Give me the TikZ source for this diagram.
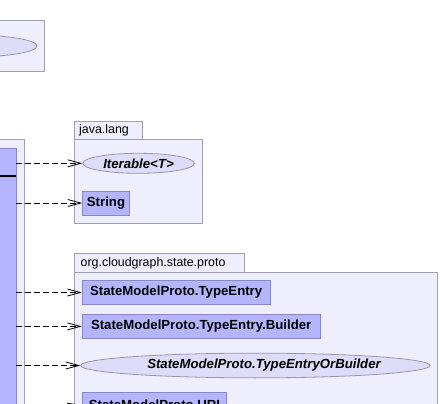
\documentclass[tikz,border=0pt]{standalone}
\usepackage{fontspec}
\setmainfont{Liberation Sans}
\usetikzlibrary{arrows.meta,shapes.geometric}
\definecolor{pkgfill}{RGB}{238,238,252}
\definecolor{pkgline}{RGB}{160,160,180}
\definecolor{clsfill}{RGB}{181,181,255}
\definecolor{clsline}{RGB}{136,136,200}
\definecolor{intfill}{RGB}{221,221,250}
\definecolor{intline}{RGB}{150,150,175}
\begin{document}
\begin{tikzpicture}[x=1pt,y=-1pt,
  pkg/.style={draw=pkgline, fill=pkgfill, line width=0.8pt},
  cls/.style={draw=clsline, fill=clsfill, line width=0.8pt, inner sep=0pt, font=\fontsize{13.2}{15}\selectfont\bfseries},
  intf/.style={ellipse, draw=intline, fill=intfill, line width=0.8pt, inner sep=0pt, font=\fontsize{13.2}{15}\selectfont\bfseries\itshape},
  pkglabel/.style={anchor=west, inner sep=0pt, font=\fontsize{12.4}{14}\selectfont},
  dep/.style={dash pattern=on 6pt off 3pt, line width=0.8pt, -{Straight Barb[length=13pt,width=7pt]}}
]
\useasboundingbox (0,0) rectangle (440,404);
\clip (0,0) rectangle (440,404);
% top-left package
\draw[pkg] (-10,20) rectangle (44.3,71);
\node[intf, minimum width=134pt, minimum height=22pt] (topif) at (-30,46) {};
% left package with source class
\draw[pkg] (-10,139) rectangle (24.7,520);
\node[cls, anchor=north east, minimum width=40pt, minimum height=400pt] (src) at (16.3,148.3) {};
\draw[line width=2pt] (src.west |- 0,175.7) -- (src.east |- 0,175.7);
% java.lang
\draw[pkg] (74,121.7) rectangle (142.7,139.3);
\draw[pkg] (74,139.3) rectangle (202.7,223.3);
\node[pkglabel] (jl) at (79,130.5) {java.lang};
\node[intf, minimum width=111.6pt, minimum height=20pt] (iter) at (138.5,163.3) {Iterable<T>};
\node[cls, minimum width=46.6pt, minimum height=24pt] (str) at (106,203) {String};
% org.cloudgraph.state.proto
\draw[pkg] (74.3,253.3) rectangle (244.3,272.3);
\draw[pkg] (74.3,272.3) rectangle (437.3,520);
\node[pkglabel] (ocp) at (80.5,262.8) {org.cloudgraph.state.proto};
\node[cls, minimum width=187.7pt, minimum height=23.6pt] (te) at (176.15,292.5) {StateModelProto.TypeEntry};
\node[cls, minimum width=237.7pt, minimum height=24.2pt] (teb) at (201.15,326.4) {StateModelProto.TypeEntry.Builder};
\node[intf, minimum width=349.3pt, minimum height=24.7pt] (orb) at (255.3,365.5) {};
\node[inner sep=0pt, font=\fontsize{13.2}{15}\selectfont\bfseries\itshape] (orbt) at (264,365.5) {StateModelProto.TypeEntryOrBuilder};
\node[cls, minimum width=144.4pt, minimum height=24pt] (uri) at (154.5,404.7) {StateModelProto.URI};
% dependencies
\draw[dep] (src.east |- iter.west) -- (iter.west);
\draw[dep] (src.east |- str.west) -- (str.west);
\draw[dep] (src.east |- te.west) -- (te.west);
\draw[dep] (src.east |- teb.west) -- (teb.west);
\draw[dep] (src.east |- orb.west) -- (orb.west);
\draw[dep] (src.east |- 0,414) -- (uri.west);
\end{tikzpicture}
\end{document}
